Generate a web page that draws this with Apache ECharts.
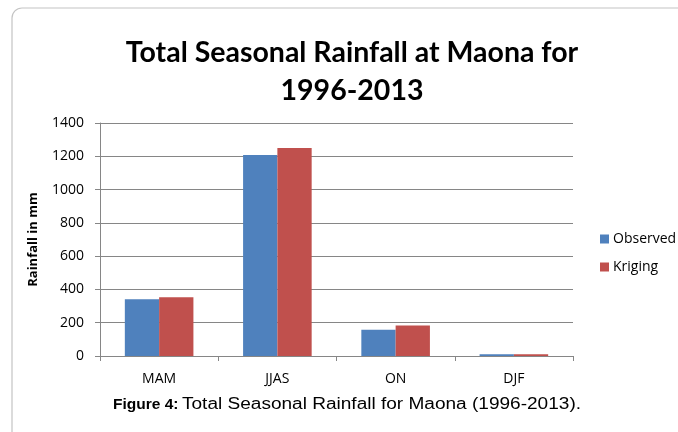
<!DOCTYPE html>
<html>
<head>
<meta charset="utf-8">
<script src="https://cdn.jsdelivr.net/npm/echarts@6/dist/echarts.min.js"></script>
<style>
html,body{margin:0;padding:0;background:#fff;}
#chart{width:678px;height:432px;}
</style>
</head>
<body>
<div id="chart"></div>
<script>
const categories = ['MAM', 'JJAS', 'ON', 'DJF'];
const observed = [341, 1207, 157, 10];
const kriging = [353, 1250, 184, 11];
const yTicks = [0, 200, 400, 600, 800, 1000, 1200, 1400];

const chart = echarts.init(document.getElementById('chart'));
chart.setOption({
  animation: false,
  backgroundColor: '#ffffff',
  graphic: [{
    type: 'rect',
    shape: { x: 12, y: 8, width: 720, height: 500, r: 10 },
    style: { fill: 'none', stroke: '#c4c4c4', lineWidth: 1.2 },
    z: -1
  }, {
    type: 'text',
    x: 113,
    y: 405,
    style: {
      text: 'Figure 4:',
      font: 'bold 15.5px "Liberation Sans"',
      fill: '#000',
      textVerticalAlign: 'middle',
      verticalAlign: 'middle'
    }
  }, {
    type: 'text',
    x: 182,
    y: 405,
    scaleX: 1.19,
    originX: 0,
    style: {
      text: 'Total Seasonal Rainfall for Maona (1996-2013).',
      font: '16px "Liberation Sans"',
      fill: '#000',
      textVerticalAlign: 'middle',
      verticalAlign: 'middle'
    }
  }],
  title: [{
    text: 'Total Seasonal Rainfall at Maona for\n1996-2013',
    left: 347,
    top: 29,
    textAlign: 'center',
    textStyle: {
      fontFamily: 'Lato',
      fontWeight: 'bold',
      fontSize: 28.5,
      lineHeight: 38,
      color: '#000'
    }
  }],
  legend: {
    orient: 'vertical',
    left: 595,
    top: 227,
    itemWidth: 9,
    itemHeight: 9,
    itemGap: 14,
    icon: 'rect',
    textStyle: { fontFamily: 'Open Sans', fontSize: 14, color: '#000', padding: [0, 0, 0, -1] },
    data: ['Observed', 'Kriging']
  },
  grid: { left: 100, right: 105, top: 123, bottom: 76 },
  xAxis: {
    type: 'category',
    data: categories,
    boundaryGap: true,
    axisLine: { show: true, lineStyle: { color: '#868686', width: 1 } },
    axisTick: { show: true, length: 5, lineStyle: { color: '#868686' } },
    axisLabel: { fontFamily: 'Open Sans', fontSize: 14, color: '#000', margin: 16 }
  },
  yAxis: {
    type: 'value',
    min: 0,
    max: 1400,
    interval: 200,
    name: 'Rainfall in mm',
    nameLocation: 'middle',
    nameGap: 60,
    nameRotate: 90,
    nameTextStyle: { fontFamily: 'Open Sans', fontWeight: 'bold', fontSize: 13, color: '#000' },
    axisLine: { show: true, lineStyle: { color: '#868686', width: 1 } },
    axisTick: { show: true, length: 5, lineStyle: { color: '#868686' } },
    splitLine: { show: true, lineStyle: { color: '#868686', width: 1 } },
    axisLabel: {
      fontFamily: 'Open Sans', fontSize: 14, color: '#000', margin: 16,
      formatter: function (v) { return yTicks.indexOf(v) >= 0 ? String(v) : ''; }
    }
  },
  series: [{
    name: 'Observed',
    type: 'bar',
    data: observed,
    barGap: '0%',
    barCategoryGap: '42%',
    itemStyle: { color: '#4F81BD' }
  }, {
    name: 'Kriging',
    type: 'bar',
    data: kriging,
    barGap: '0%',
    barCategoryGap: '42%',
    itemStyle: { color: '#C0504D' }
  }]
});
</script>
</body>
</html>
